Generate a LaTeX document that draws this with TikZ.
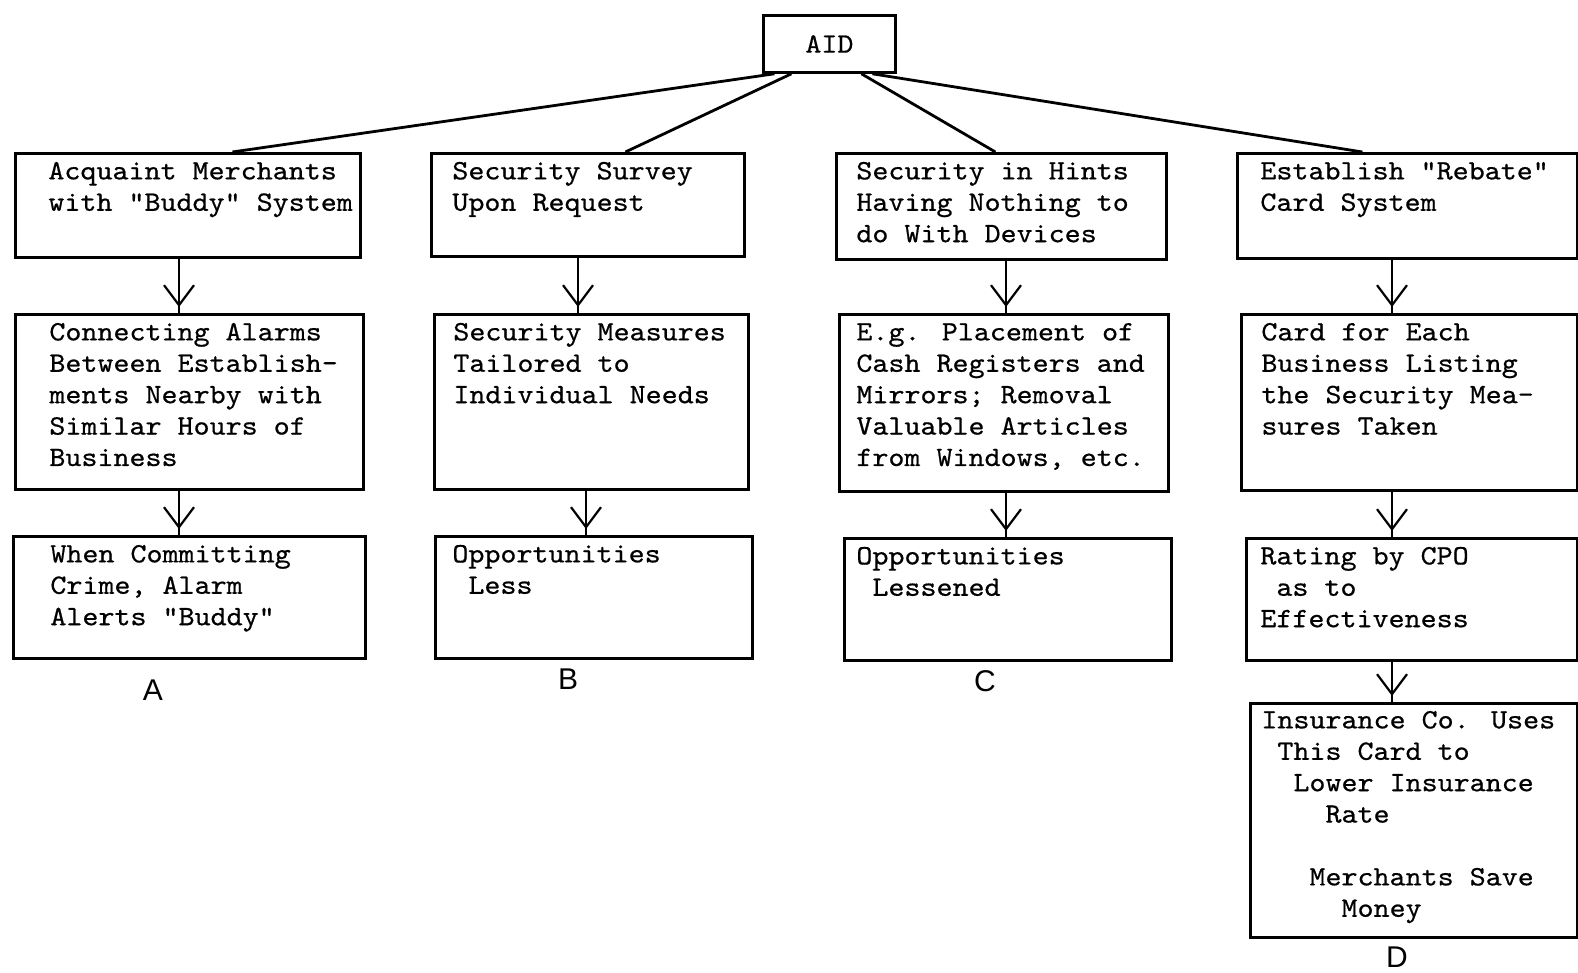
\documentclass[tikz,border=0pt]{standalone}
\usepackage{fontspec}
\newfontfamily\handfont{Liberation Sans}
\newfontfamily\twfam{lmmono10-regular.otf}[FakeStretch=1.09,FakeBold=0.6]
\usetikzlibrary{arrows.meta,decorations.markings}
\newcommand\tw{\twfam\fontsize{14pt}{15.7pt}\selectfont}

\begin{document}
\begin{tikzpicture}[x=0.5pt,y=-0.5pt,
  box/.style={draw, line width=1.4pt, inner sep=0pt, anchor=north west},
  txt/.style={anchor=north west, inner sep=0pt, align=left, font=\tw},
  branch/.style={line width=1.4pt},
  flow/.style={line width=1.1pt, postaction={decorate},
    decoration={markings, mark=at position -3pt with
      {\arrow[line width=1.1pt]{Straight Barb[length=10pt,width=15pt]}}}},
  letter/.style={font=\handfont\fontsize{15pt}{18pt}\selectfont, inner sep=0pt}]
\useasboundingbox (0,0) rectangle (1578,973);

% top node
\node[box, minimum width=66pt, minimum height=28.5pt, font=\tw] (AID) at (762,14) {AID};

% column A
\node[box, minimum width=172.5pt, minimum height=52pt] (A1) at (14,152) {};
\node[box, minimum width=174pt, minimum height=87.5pt] (A2) at (14,313) {};
\node[box, minimum width=176pt, minimum height=61pt] (A3) at (12,535) {};
\node[txt] (A1t) at ([shift={(34,5)}]A1.north west) {\strut Acquaint Merchants\\with "Buddy" System};
\node[txt] (A2t) at ([shift={(35,5)}]A2.north west) {\strut Connecting Alarms\\Between Establish-\\ments Nearby with\\Similar Hours of\\Business};
\node[txt] (A3t) at ([shift={(38,5)}]A3.north west) {\strut When Committing\\Crime, Alarm\\Alerts "Buddy"};
\node[letter] (la) at (153,690) {A};

% column B
\node[box, minimum width=156.5pt, minimum height=51.5pt] (B1) at (430,152) {};
\node[box, minimum width=157pt, minimum height=87.5pt] (B2) at (433,313) {};
\node[box, minimum width=158.5pt, minimum height=61pt] (B3) at (434,535) {};
\node[txt] (B1t) at ([shift={(22,5)}]B1.north west) {\strut Security Survey\\Upon Request};
\node[txt] (B2t) at ([shift={(20,5)}]B2.north west) {\strut Security Measures\\Tailored to\\Individual Needs};
\node[txt] (B3t) at ([shift={(18,5)}]B3.north west) {\strut Opportunities\\\ Less};
\node[letter] (lb) at (568,679) {B};

% column C
\node[box, minimum width=165pt, minimum height=53pt] (C1) at (835,152) {};
\node[box, minimum width=164.5pt, minimum height=88.5pt] (C2) at (838,313) {};
\node[box, minimum width=163.5pt, minimum height=61pt] (C3) at (843,537) {};
\node[txt] (C1t) at ([shift={(21,5)}]C1.north west) {\strut Security in Hints\\Having Nothing to\\do With Devices};
\node[txt] (C2t) at ([shift={(18,5)}]C2.north west) {\strut E.g. Placement of\\Cash Registers and\\Mirrors; Removal\\Valuable Articles\\from Windows, etc.};
\node[txt] (C3t) at ([shift={(13,5)}]C3.north west) {\strut Opportunities\\\ Lessened};
\node[letter] (lc) at (985,681) {C};

% column D
\node[box, minimum width=170pt, minimum height=52.5pt] (D1) at (1236,152) {};
\node[box, minimum width=168pt, minimum height=88pt] (D2) at (1240,313) {};
\node[box, minimum width=165.5pt, minimum height=61pt] (D3) at (1245,537) {};
\node[box, minimum width=163.5pt, minimum height=117pt] (D4) at (1249,702) {};
\node[txt] (D1t) at ([shift={(24,5)}]D1.north west) {\strut Establish "Rebate"\\Card System};
\node[txt] (D2t) at ([shift={(21,5)}]D2.north west) {\strut Card for Each\\Business Listing\\the Security Mea-\\sures Taken};
\node[txt] (D3t) at ([shift={(15,5)}]D3.north west) {\strut Rating by CPO\\\ as to\\Effectiveness};
\node[txt] (D4t) at ([shift={(12,4)}]D4.north west) {\strut Insurance Co. Uses\\\ This Card to\\\ \ Lower Insurance\\\ \ \ \ Rate\\[15.7pt]\ \ \ Merchants Save\\\ \ \ \ \ Money};
\node[letter] (ld) at (1397,957) {D};

% branches from the top node
\draw[branch] ([shift={(-55,0)}]AID.south) -- ([shift={(44.5,0)}]A1.north);
\draw[branch] ([shift={(-38,0)}]AID.south) -- ([shift={(37.5,0)}]B1.north);
\draw[branch] ([shift={(32,0)}]AID.south) -- ([shift={(-6,0)}]C1.north);
\draw[branch] ([shift={(43,0)}]AID.south) -- ([shift={(-45,0)}]D1.north);

% vertical flow arrows
\coordinate (ax) at (179,0);
\coordinate (bx1) at (578,0);
\coordinate (bx2) at (586,0);
\coordinate (cx) at (1006,0);
\coordinate (dx) at (1392,0);
\draw[flow] (A1.south -| ax) -- (A2.north -| ax);
\draw[flow] (A2.south -| ax) -- (A3.north -| ax);
\draw[flow] (B1.south -| bx1) -- (B2.north -| bx1);
\draw[flow] (B2.south -| bx2) -- (B3.north -| bx2);
\draw[flow] (C1.south -| cx) -- (C2.north -| cx);
\draw[flow] (C2.south -| cx) -- (C3.north -| cx);
\draw[flow] (D1.south -| dx) -- (D2.north -| dx);
\draw[flow] (D2.south -| dx) -- (D3.north -| dx);
\draw[flow] (D3.south -| dx) -- (D4.north -| dx);
\end{tikzpicture}
\end{document}
